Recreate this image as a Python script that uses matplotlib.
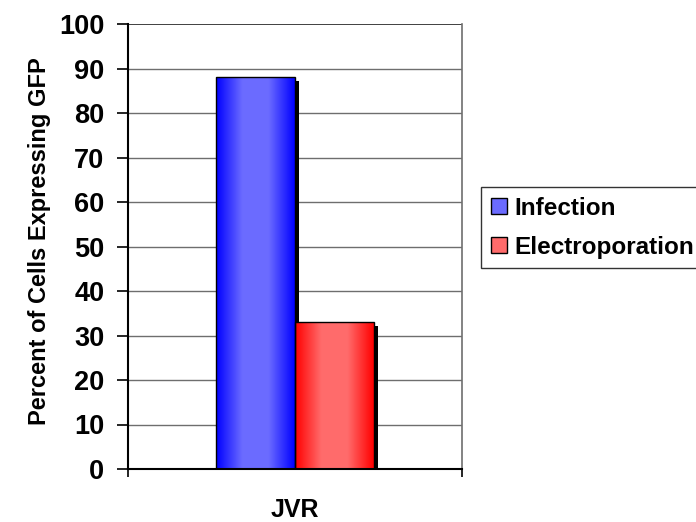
import numpy as np
import matplotlib
matplotlib.use("Agg")
import matplotlib.pyplot as plt
import matplotlib.transforms as mtransforms
from matplotlib.patches import Rectangle
from matplotlib.colors import LinearSegmentedColormap

categories = ["JVR"]
series = ["Infection", "Electroporation"]
values = [88, 33]
y_ticks = [0, 10, 20, 30, 40, 50, 60, 70, 80, 90, 100]

plt.rcParams["font.family"] = ["Liberation Sans", "DejaVu Sans"]
plt.rcParams["font.weight"] = "bold"

W, H = 696, 522
fig = plt.figure(figsize=(W / 100, H / 100), dpi=100)
ax = fig.add_axes([128 / W, 1 - 469 / H, (462 - 128) / W, (469 - 24) / H])

ax.set_xlim(-0.5, 0.5)
ax.set_ylim(0, 100)

edge_cols = {"Infection": (0, 0, 1.0), "Electroporation": (1.0, 0, 0)}
mid_cols = {"Infection": (0.42, 0.42, 1.0), "Electroporation": (1.0, 0.42, 0.42)}

bar_w = 0.236
offsets = [-bar_w / 2, bar_w / 2]

# drop shadow shifted a few pixels right/down
shadow_tf = ax.transData + mtransforms.ScaledTranslation(4 / 100, -4 / 100, fig.dpi_scale_trans)

for name, val, off in zip(series, values, offsets):
    x0 = off - bar_w / 2
    ax.add_patch(Rectangle((x0, 0), bar_w, val, facecolor="black", edgecolor="none",
                           transform=shadow_tf, zorder=2, clip_on=True))
    cmap = LinearSegmentedColormap.from_list(
        name, [edge_cols[name], mid_cols[name], mid_cols[name], edge_cols[name]],
    )
    grad = np.linspace(0, 1, 256).reshape(1, -1)
    im = ax.imshow(grad, cmap=cmap, aspect="auto", extent=(x0, x0 + bar_w, 0, val),
                   zorder=3, interpolation="bilinear")
    rect = Rectangle((x0, 0), bar_w, val, facecolor="none", edgecolor="black",
                     linewidth=1.0, zorder=4)
    ax.add_patch(rect)
    im.set_clip_path(rect)

ax.set_xlim(-0.5, 0.5)
ax.set_ylim(0, 100)

# gridlines
for t in y_ticks[1:]:
    ax.axhline(t, color="#6e6e6e" if t < 100 else "#404040",
               linewidth=1.0 if t < 100 else 1.4, zorder=1)

for s in ["top", "right"]:
    ax.spines[s].set_visible(False)
ax.plot([1, 1], [0, 1], transform=ax.transAxes, color="#6e6e6e", lw=1.2, clip_on=False, zorder=1)
ax.spines["left"].set_color("black")
ax.spines["left"].set_linewidth(1.5)
ax.spines["bottom"].set_color("black")
ax.spines["bottom"].set_linewidth(1.5)
ax.spines["bottom"].set_zorder(5)

ax.set_yticks(y_ticks)
ax.set_yticklabels([str(t) for t in y_ticks], fontsize=19.5, fontweight="bold")
ax.tick_params(axis="y", direction="out", length=8, width=1.2, pad=9)

ax.set_xticks([-0.5, 0.5], minor=False)
ax.set_xticklabels(["", ""])
ax.tick_params(axis="x", direction="out", length=6, width=1.2)
ax.text(0, -0.092, categories[0], transform=ax.get_xaxis_transform(), ha="center",
        va="center", fontsize=18, fontweight="bold")

fig.text(40 / W, 1 - 241 / H, "Percent of Cells Expressing GFP", rotation=90,
         ha="center", va="center", fontsize=17, fontweight="bold")

# legend
handles = [Rectangle((0, 0), 1, 1, facecolor=mid_cols[n], edgecolor="black", linewidth=1.0)
           for n in series]
leg = fig.legend(handles, series, loc="upper left",
                 bbox_to_anchor=(481 / W, 1 - 187 / H), frameon=True, fancybox=False,
                 prop={"size": 17.5, "weight": "bold"}, handlelength=0.66, handleheight=0.66,
                 handletextpad=0.3, labelspacing=0.65, borderpad=0.4, borderaxespad=0)
leg.get_frame().set_edgecolor("black")
leg.get_frame().set_linewidth(1.0)

fig.savefig("out.png", dpi=100)
